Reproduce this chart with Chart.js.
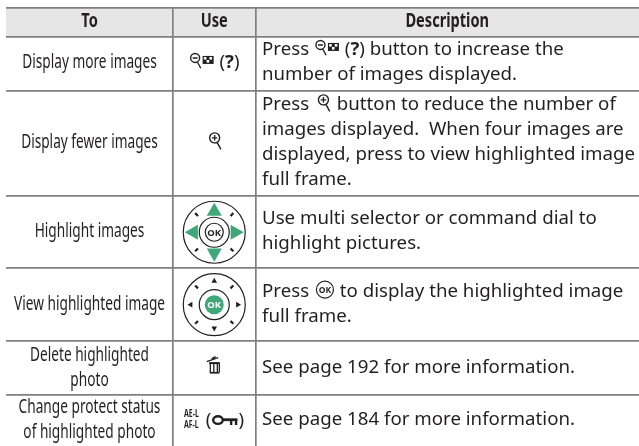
<!DOCTYPE html>
<html>
<head>
<meta charset="utf-8">
<title>Thumbnail controls</title>
<script src="https://cdn.jsdelivr.net/npm/chart.js@4"></script>
<style>
  html, body { margin: 0; padding: 0; background: #fff; }
  canvas { display: block; }
</style>
</head>
<body>
<canvas id="tableChart" width="639" height="446"></canvas>
<script>
// table values
const headers = ['To', 'Use', 'Description'];
const colWidths = [167, 82.5, 383.5];
const rowHeights = [29, 54, 106, 72, 73, 54, 51];

const toCol = [
  ['Display more images'],
  ['Display fewer images'],
  ['Highlight images'],
  ['View highlighted image'],
  ['Delete highlighted', 'photo'],
  ['Change protect status', 'of highlighted photo']
];
const useCol = ['{out} ({help})', '{in}', '{dialGreen}', '{dialOk}', '{trash}', '{ael} ({key})'];
const descCol = [
  ['Press {out} ({help}) button to increase the', 'number of images displayed.'],
  ['Press {in} button to reduce the number of', 'images displayed.  When four images are', 'displayed, press to view highlighted image', 'full frame.'],
  ['Use multi selector or command dial to', 'highlight pictures.'],
  ['Press {ok} to display the highlighted image', 'full frame.'],
  ['See page 192 for more information.'],
  ['See page 184 for more information.']
];

function cumulate(list) {
  const out = [0];
  list.forEach(v => out.push(out[out.length - 1] + v));
  return out;
}
const colEdges = cumulate(colWidths);
const rowEdges = cumulate(rowHeights);

const LINE = '#808080';
const INK = '#231f20';
const GREEN = '#3fa878';
const BODY_FONT = '18.5px "Noto Sans"';
const BODY_SQUEEZE = 1.01;
const NARROW_FONT = '19px "Noto Sans"';
const NARROW_SQUEEZE = 0.72;
const HEAD_FONT = 'bold 20px "Noto Sans"';
const HEAD_SQUEEZE = 0.73;

// icon drawers, each draws at x with baseline y and returns its width
function magnifier(ctx, cx, cy, r, sign) {
  ctx.strokeStyle = INK;
  ctx.lineWidth = 1.4;
  ctx.beginPath();
  ctx.arc(cx, cy, r, 0, Math.PI * 2);
  ctx.moveTo(cx + r * 0.5, cy + r * 0.9);
  ctx.lineTo(cx + r * 1.25, cy + r * 2.3);
  ctx.moveTo(cx - r * 0.55, cy);
  ctx.lineTo(cx + r * 0.55, cy);
  if (sign === '+') {
    ctx.moveTo(cx, cy - r * 0.55);
    ctx.lineTo(cx, cy + r * 0.55);
  }
  ctx.stroke();
}

function arrow(ctx, cx, cy, size, angle, color) {
  ctx.save();
  ctx.translate(cx, cy);
  ctx.rotate(angle);
  ctx.fillStyle = color;
  ctx.beginPath();
  ctx.moveTo(0, -size);
  ctx.lineTo(size, size * 0.75);
  ctx.lineTo(-size, size * 0.75);
  ctx.closePath();
  ctx.fill();
  ctx.restore();
}

function dial(ctx, cx, cy, green) {
  ctx.strokeStyle = INK;
  ctx.lineWidth = 1.2;
  ctx.beginPath();
  ctx.arc(cx, cy, 31, 0, Math.PI * 2);
  ctx.stroke();
  ctx.beginPath();
  ctx.arc(cx, cy, 15, 0, Math.PI * 2);
  ctx.stroke();
  for (let i = 0; i < 4; i++) {
    const a = Math.PI / 4 + i * Math.PI / 2;
    ctx.lineWidth = 2.2;
    ctx.beginPath();
    ctx.moveTo(cx + Math.cos(a) * 23, cy + Math.sin(a) * 23);
    ctx.lineTo(cx + Math.cos(a) * 27, cy + Math.sin(a) * 27);
    ctx.stroke();
    const b = i * Math.PI / 2;
    const dist = green ? 22 : 24;
    arrow(ctx, cx + Math.sin(b) * dist, cy - Math.cos(b) * dist, green ? 7.5 : 2.8, b, green ? GREEN : INK);
  }
  ctx.textAlign = 'center';
  if (green) {
    ctx.lineWidth = 1.2;
    ctx.beginPath();
    ctx.arc(cx, cy, 9, 0, Math.PI * 2);
    ctx.stroke();
    ctx.fillStyle = INK;
  } else {
    ctx.fillStyle = GREEN;
    ctx.beginPath();
    ctx.arc(cx, cy, 9.5, 0, Math.PI * 2);
    ctx.fill();
    ctx.fillStyle = '#fff';
  }
  ctx.font = 'bold 9.5px "Noto Sans"';
  ctx.fillText('OK', cx, cy + 3.5);
  ctx.textAlign = 'left';
}

const icons = {
  out(ctx, x, y) {
    magnifier(ctx, x + 6.5, y - 10.5, 4.5, '-');
    ctx.fillStyle = INK;
    ctx.fillRect(x + 14, y - 12.5, 11, 8);
    ctx.fillStyle = '#fff';
    ctx.fillRect(x + 15.2, y - 11.4, 2.6, 2.6);
    ctx.fillRect(x + 20.8, y - 11.4, 2.6, 2.6);
    ctx.fillRect(x + 18, y - 8.4, 2.6, 2.6);
    return 26;
  },
  in(ctx, x, y) {
    magnifier(ctx, x + 9.5, y - 10.5, 5, '+');
    return 18;
  },
  help(ctx, x, y) {
    ctx.font = 'bold 18.5px "Noto Sans"';
    ctx.fillStyle = INK;
    ctx.fillText('?', x, y);
    return ctx.measureText('?').width;
  },
  ok(ctx, x, y) {
    ctx.strokeStyle = INK;
    ctx.lineWidth = 1.2;
    ctx.beginPath();
    ctx.arc(x + 11, y - 7, 8.5, 0, Math.PI * 2);
    ctx.stroke();
    ctx.font = 'bold 8.5px "Noto Sans"';
    ctx.fillStyle = INK;
    ctx.textAlign = 'center';
    ctx.fillText('OK', x + 11, y - 4);
    ctx.textAlign = 'left';
    return 21;
  },
  trash(ctx, x, y) {
    ctx.strokeStyle = INK;
    ctx.fillStyle = INK;
    ctx.lineWidth = 1.4;
    ctx.beginPath();
    ctx.moveTo(x, y - 11.5);
    ctx.lineTo(x + 11.5, y - 15.5);
    ctx.moveTo(x + 5, y - 14.5);
    ctx.lineTo(x + 9, y - 16.5);
    ctx.stroke();
    ctx.fillRect(x + 2.5, y - 11, 10.5, 2);
    [3, 6.5, 10, 12].forEach(dx => {
      ctx.fillRect(x + dx, y - 10, 1.3, 9);
    });
    ctx.fillRect(x + 3, y - 1.2, 9.8, 1.7);
    return 15;
  },
  ael(ctx, x, y) {
    ctx.fillStyle = INK;
    ctx.font = 'bold 10.5px "Noto Sans"';
    ctx.save();
    ctx.translate(x, y);
    ctx.scale(0.66, 1);
    ctx.fillText('AE-L', 0, -9);
    ctx.fillText('AF-L', 0, 2);
    ctx.restore();
    return 17;
  },
  key(ctx, x, y) {
    ctx.strokeStyle = INK;
    ctx.fillStyle = INK;
    ctx.lineWidth = 2.4;
    ctx.beginPath();
    ctx.ellipse(x + 6.5, y - 5.5, 4.8, 3.8, 0, 0, Math.PI * 2);
    ctx.stroke();
    ctx.fillRect(x + 11, y - 7.2, 15, 2.8);
    ctx.fillRect(x + 18.5, y - 6, 2.4, 5.5);
    ctx.fillRect(x + 23.4, y - 6, 2.4, 5.5);
    return 27;
  }
};

// split a line into text runs and {icon} runs
function runsOf(line) {
  return line.split(/(\{\w+\})/).filter(s => s.length);
}

function lineWidth(ctx, line, font) {
  const probe = document.createElement('canvas').getContext('2d');
  let w = 0;
  runsOf(line).forEach(run => {
    if (run[0] === '{') {
      const name = run.slice(1, -1);
      probe.save();
      w += icons[name](probe, 0, 0);
      probe.restore();
    } else {
      ctx.font = font;
      w += ctx.measureText(run).width;
    }
  });
  return w;
}

function drawLine(ctx, line, x, y, font, squeeze) {
  ctx.save();
  ctx.translate(x, y);
  ctx.scale(squeeze, 1);
  let pos = 0;
  runsOf(line).forEach(run => {
    if (run[0] === '{') {
      ctx.save();
      ctx.translate(pos, 0);
      ctx.scale(1 / squeeze, 1);
      pos += icons[run.slice(1, -1)](ctx, 0, 0) / squeeze;
      ctx.restore();
    } else {
      ctx.font = font;
      ctx.fillStyle = INK;
      ctx.fillText(run, pos, 0);
      pos += ctx.measureText(run).width;
    }
  });
  ctx.restore();
}

function drawCentred(ctx, line, cx, y, font, squeeze) {
  ctx.font = font;
  const w = lineWidth(ctx, line, font) * squeeze;
  drawLine(ctx, line, cx - w / 2, y, font, squeeze);
}

const tableText = {
  id: 'tableText',
  afterDraw(chart) {
    const ctx = chart.ctx;
    const xs = chart.scales.x;
    const ys = chart.scales.y;
    const LEADING = 25;
    ctx.save();
    ctx.textBaseline = 'alphabetic';
    ctx.textAlign = 'left';

    const colMid = i => xs.getPixelForValue((colEdges[i] + colEdges[i + 1]) / 2);
    const rowMid = i => ys.getPixelForValue((rowEdges[i] + rowEdges[i + 1]) / 2);

    headers.forEach((h, i) => {
      drawCentred(ctx, h, colMid(i), rowMid(0) + 5, HEAD_FONT, HEAD_SQUEEZE);
    });

    for (let r = 0; r < toCol.length; r++) {
      const mid = rowMid(r + 1);
      const toLines = toCol[r];
      toLines.forEach((t, k) => {
        const y = mid + 5 + (k - (toLines.length - 1) / 2) * LEADING;
        drawCentred(ctx, t, colMid(0), y, NARROW_FONT, NARROW_SQUEEZE);
      });

      const use = useCol[r];
      if (use === '{dialGreen}' || use === '{dialOk}') {
        dial(ctx, colMid(1), mid, use === '{dialGreen}');
      } else {
        drawCentred(ctx, use, colMid(1), mid + 5, BODY_FONT, BODY_SQUEEZE);
      }

      const descX = xs.getPixelForValue(colEdges[2]) + 6.5;
      const descLines = descCol[r];
      descLines.forEach((t, k) => {
        const y = mid + 4.5 + (k - (descLines.length - 1) / 2) * LEADING;
        drawLine(ctx, t, descX, y, BODY_FONT, BODY_SQUEEZE);
      });
    }
    ctx.restore();
  }
};

new Chart(document.getElementById('tableChart'), {
  type: 'scatter',
  data: {
    datasets: [{
      // header band
      type: 'line',
      data: [
        { x: colEdges[0], y: rowEdges[0] },
        { x: colEdges[3], y: rowEdges[0] }
      ],
      fill: { value: rowEdges[1] },
      backgroundColor: '#e6e6e6',
      borderWidth: 0,
      pointRadius: 0
    }]
  },
  plugins: [tableText],
  options: {
    responsive: false,
    animation: false,
    layout: { padding: { left: 6, top: 7.5, right: 0, bottom: 0 } },
    plugins: { legend: { display: false }, tooltip: { enabled: false } },
    scales: {
      x: {
        type: 'linear',
        min: colEdges[0],
        max: colEdges[3],
        afterBuildTicks(axis) { axis.ticks = colEdges.map(v => ({ value: v })); },
        ticks: { display: false },
        border: { display: false },
        grid: {
          z: 1,
          drawTicks: false,
          lineWidth: 1.7,
          color: c => (c.index === 0 || c.index === colEdges.length - 1) ? 'transparent' : LINE
        }
      },
      y: {
        type: 'linear',
        reverse: true,
        min: rowEdges[0],
        max: rowEdges[rowEdges.length - 1],
        afterBuildTicks(axis) { axis.ticks = rowEdges.map(v => ({ value: v })); },
        ticks: { display: false },
        border: { display: false },
        grid: {
          z: 1,
          drawTicks: false,
          lineWidth: 1.7,
          color: c => c.index === rowEdges.length - 1 ? 'transparent' : LINE
        }
      }
    }
  }
});
</script>
</body>
</html>
